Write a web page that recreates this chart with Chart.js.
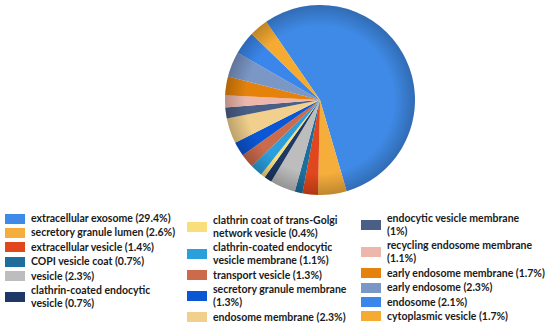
<!DOCTYPE html>
<html>
<head>
<meta charset="utf-8">
<script src="https://cdn.jsdelivr.net/npm/chart.js@4"></script>
<style>
    body { margin: 0; background: #fff; width: 550px; height: 327px; overflow: hidden; position: relative; font-family: "Lato", "Open Sans", sans-serif; }
    #pie-box { position: absolute; left: 220px; top: 0; width: 200px; height: 200px; }
    .col { position: absolute; top: 212px; }
    .item { display: flex; align-items: center; margin-bottom: 1.4px; }
    .swatch { flex: none; width: 20px; height: 10px; margin-right: 6px; }
    .txt { font-size: 10.5px; font-weight: 700; line-height: 13px; color: #1a1a1a; }
</style>
</head>
<body>
<div id="pie-box"><canvas id="pie"></canvas></div>
<div class="col" id="col1" style="left:5px; width:172px;"></div>
<div class="col" id="col2" style="left:187px; top:214px; width:168px;"></div>
<div class="col" id="col3" style="left:361px; width:189px;"></div>
<script>
// categorias do gráfico (ordem horária a partir do topo)
const categorias = [
    'extracellular exosome', 'secretory granule lumen', 'extracellular vesicle', 'COPI vesicle coat',
    'vesicle', 'clathrin-coated endocytic vesicle', 'clathrin coat of trans-Golgi network vesicle',
    'clathrin-coated endocytic vesicle membrane', 'transport vesicle', 'secretory granule membrane',
    'endosome membrane', 'endocytic vesicle membrane', 'recycling endosome membrane',
    'early endosome membrane', 'early endosome', 'endosome', 'cytoplasmic vesicle'
];
const percentuais = [29.4, 2.6, 1.4, 0.7, 2.3, 0.7, 0.4, 1.1, 1.3, 1.3, 2.3, 1, 1.1, 1.7, 2.3, 2.1, 1.7];
const cores = [
    '#3f8ae6', '#f5ad3c', '#e0471c', '#1e6e9c', '#bdbdbd', '#1d3866', '#f8df7c',
    '#2a9fdc', '#cc6a4c', '#0b56d4', '#f1cf8c', '#4a5e86', '#eeb7ab',
    '#e4820c', '#7b97c6', '#3b86ea', '#f5ab32'
];
const colunasLegenda = [6, 5, 6]; // quantos itens em cada coluna
const quebraAntesPct = [11, 12]; // itens da 3a coluna com a % na linha de baixo

// monta a legenda em 3 colunas
let idx = 0;
colunasLegenda.forEach((n, c) => {
    const col = document.getElementById('col' + (c + 1));
    for (let k = 0; k < n; k++, idx++) {
        const sep = quebraAntesPct.includes(idx) ? '<br>' : ' ';
        const item = document.createElement('div');
        item.className = 'item';
        item.innerHTML = `<span class="swatch" style="background:${cores[idx]}"></span>` +
            `<span class="txt">${categorias[idx]}${sep}(${percentuais[idx]}%)</span>`;
        col.appendChild(item);
    }
});

// sombreado nas bordas da pizza
const shadePlugin = {
    id: 'shade',
    afterDatasetsDraw(chart) {
        const arc = chart.getDatasetMeta(0).data[0];
        if (!arc) return;
        const { x, y, outerRadius } = arc;
        const ctx = chart.ctx;
        const g = ctx.createRadialGradient(x, y, outerRadius * 0.78, x, y, outerRadius);
        g.addColorStop(0, 'rgba(0,0,0,0)');
        g.addColorStop(1, 'rgba(0,0,0,0.22)');
        ctx.save();
        ctx.beginPath();
        ctx.arc(x, y, outerRadius, 0, Math.PI * 2);
        ctx.fillStyle = g;
        ctx.fill();
        ctx.restore();
    }
};

new Chart(document.getElementById('pie'), {
    type: 'pie',
    data: {
        labels: categorias,
        datasets: [{
            data: percentuais,
            backgroundColor: cores,
            borderWidth: 0
        }]
    },
    options: {
        responsive: true,
        maintainAspectRatio: false,
        animation: false,
        rotation: -34.5,
        layout: { padding: 5 },
        plugins: {
            legend: { display: false },
            tooltip: { enabled: false }
        }
    },
    plugins: [shadePlugin]
});
</script>
</body>
</html>
